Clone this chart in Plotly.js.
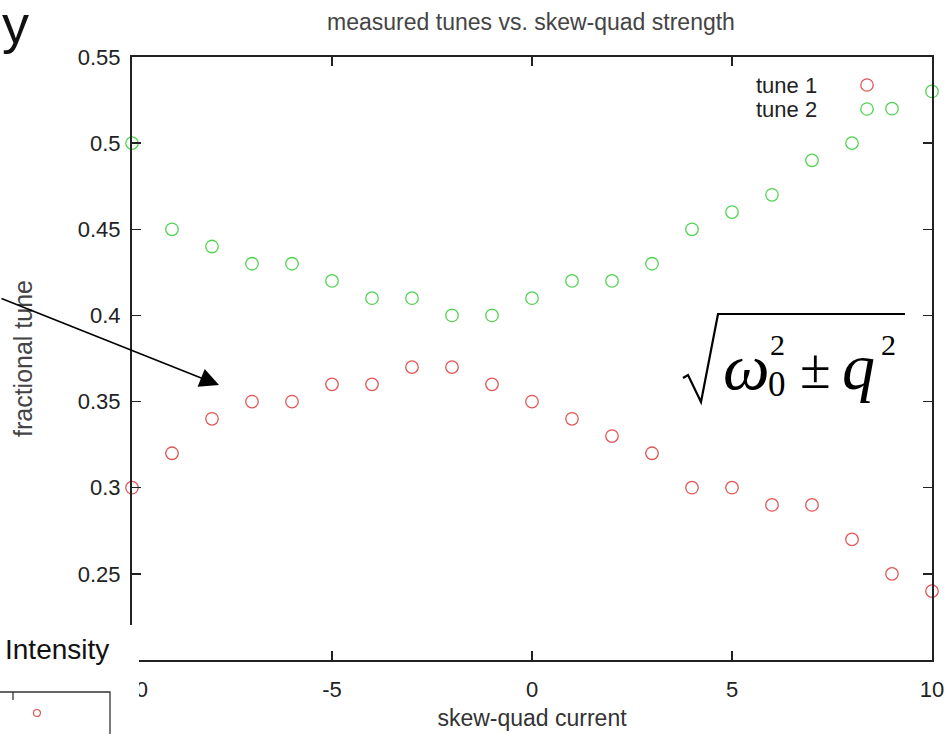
<!DOCTYPE html>
<html>
<head>
<meta charset="utf-8">
<script src="https://cdn.plot.ly/plotly-3.0.1.min.js"></script>
<style>html,body{margin:0;padding:0;background:#fff;}#chart{width:948px;height:734px;}</style>
</head>
<body>
<div id="chart"></div>
<script>
// ---- data ----
const current = [-10, -9, -8, -7, -6, -5, -4, -3, -2, -1, 0, 1, 2, 3, 4, 5, 6, 7, 8, 9, 10];
const tune1 = [0.30, 0.32, 0.34, 0.35, 0.35, 0.36, 0.36, 0.37, 0.37, 0.36, 0.35, 0.34, 0.33, 0.32, 0.30, 0.30, 0.29, 0.29, 0.27, 0.25, 0.24];
const tune2 = [0.50, 0.45, 0.44, 0.43, 0.43, 0.42, 0.41, 0.41, 0.40, 0.40, 0.41, 0.42, 0.42, 0.43, 0.45, 0.46, 0.47, 0.49, 0.50, 0.52, 0.53];
const seriesNames = ["tune 1", "tune 2"];
const xTicks = [-10, -5, 0, 5, 10];
const yTicks = [0.25, 0.3, 0.35, 0.4, 0.45, 0.5, 0.55];

// ---- layout helpers (pixel -> paper) ----
const W = 948, H = 734, L = 132, R = 16, T = 57, B = 74;
const PW = W - L - R, PH = H - T - B;
const px = x => (x - L) / PW;
const py = y => (H - B - y) / PH;

const red = '#e05656', green = '#52d452';
const sans = 'Liberation Sans, Arial, sans-serif';
const serif = 'Liberation Serif, Times New Roman, serif';

const traces = [
  {x: current, y: tune1, name: seriesNames[0], mode: 'markers', type: 'scatter', cliponaxis: false,
   marker: {symbol: 'circle-open', size: 12.5, color: red, line: {width: 1.3, color: red}}},
  {x: current, y: tune2, name: seriesNames[1], mode: 'markers', type: 'scatter', cliponaxis: false,
   marker: {symbol: 'circle-open', size: 12.5, color: green, line: {width: 1.3, color: green}}}
];

const ann = [];
// legend (gnuplot style: text left, sample right)
ann.push({xref: 'paper', yref: 'paper', x: px(819), y: py(85), xanchor: 'right', yanchor: 'middle', showarrow: false,
  text: seriesNames[0], font: {family: sans, size: 22, color: '#222'}});
ann.push({xref: 'paper', yref: 'paper', x: px(819), y: py(109), xanchor: 'right', yanchor: 'middle', showarrow: false,
  text: seriesNames[1], font: {family: sans, size: 22, color: '#222'}});
// slide overlay "y"
ann.push({xref: 'paper', yref: 'paper', x: px(0), y: py(24), xanchor: 'left', yanchor: 'middle', showarrow: false,
  text: 'y', font: {family: sans, size: 54, color: '#111'}});
// arrow
ann.push({xref: 'paper', yref: 'paper', x: px(219), y: py(385), ax: -219, ay: -87, showarrow: true,
  arrowhead: 2, arrowsize: 2.4, arrowwidth: 1.6, arrowcolor: '#000', text: ''});
// "Intensity"
ann.push({xref: 'paper', yref: 'paper', x: px(3), y: py(649), xanchor: 'left', yanchor: 'middle', showarrow: false,
  text: 'Intensity', font: {family: sans, size: 28, color: '#111'}});
// formula
const fcol = '#000';
ann.push({xref: 'paper', yref: 'paper', x: px(721), y: py(366), xanchor: 'left', yanchor: 'middle', showarrow: false,
  text: '<i>ω</i>', font: {family: serif, size: 66, color: fcol}});
ann.push({xref: 'paper', yref: 'paper', x: px(768), y: py(344), xanchor: 'left', yanchor: 'middle', showarrow: false,
  text: '2', font: {family: serif, size: 30, color: fcol}});
ann.push({xref: 'paper', yref: 'paper', x: px(766), y: py(384), xanchor: 'left', yanchor: 'middle', showarrow: false,
  text: '0', font: {family: serif, size: 35, color: fcol}});
ann.push({xref: 'paper', yref: 'paper', x: px(798), y: py(369), xanchor: 'left', yanchor: 'middle', showarrow: false,
  text: '±', font: {family: serif, size: 56, color: fcol}});
ann.push({xref: 'paper', yref: 'paper', x: px(840), y: py(366), xanchor: 'left', yanchor: 'middle', showarrow: false,
  text: '<i>q</i>', font: {family: serif, size: 66, color: fcol}});
ann.push({xref: 'paper', yref: 'paper', x: px(879), y: py(344), xanchor: 'left', yanchor: 'middle', showarrow: false,
  text: '2', font: {family: serif, size: 30, color: fcol}});

const shapes = [
  // legend samples
  {type: 'circle', xref: 'paper', yref: 'paper', layer: 'above', x0: px(860.8), x1: px(873.2), y0: py(78.8), y1: py(91.2), line: {color: red, width: 1.3}},
  {type: 'circle', xref: 'paper', yref: 'paper', layer: 'above', x0: px(860.8), x1: px(873.2), y0: py(102.8), y1: py(115.2), line: {color: green, width: 1.3}},
  // white overlay at bottom-left
  {type: 'rect', xref: 'paper', yref: 'paper', layer: 'above', x0: px(-2), x1: px(139), y0: py(625), y1: py(740), fillcolor: '#fff', line: {width: 0}},
  // small inset box
  {type: 'path', xref: 'paper', yref: 'paper', layer: 'above',
   path: `M ${px(-2)} ${py(692)} L ${px(110)} ${py(692)} L ${px(110)} ${py(740)}`, line: {color: '#333', width: 1.3}},
  {type: 'line', xref: 'paper', yref: 'paper', layer: 'above', x0: px(13), x1: px(13), y0: py(692), y1: py(700), line: {color: '#333', width: 1.3}},
  {type: 'circle', xref: 'paper', yref: 'paper', layer: 'above', x0: px(33.5), x1: px(40.5), y0: py(709.5), y1: py(716.5), line: {color: red, width: 1.2}},
  // radical sign and vinculum
  {type: 'path', xref: 'paper', yref: 'paper', layer: 'above',
   path: `M ${px(683)} ${py(378)} L ${px(688)} ${py(375)} L ${px(701)} ${py(402)} L ${px(718)} ${py(314)} L ${px(905)} ${py(314)}`,
   line: {color: fcol, width: 2.2}}
];

const layout = {
  width: W, height: H,
  margin: {l: L, r: R, t: T, b: B},
  paper_bgcolor: '#fff', plot_bgcolor: '#fff',
  showlegend: false,
  title: {text: 'measured tunes vs. skew-quad strength', x: 531 / W, xanchor: 'center', y: 1 - 22 / H, yanchor: 'middle', yref: 'container',
          font: {family: sans, size: 23, color: '#444'}},
  xaxis: {range: [-10, 10], tickvals: xTicks, ticktext: xTicks.map(String), showgrid: false, zeroline: false,
          showline: true, linecolor: '#222', linewidth: 2, mirror: 'ticks', ticks: 'inside', ticklen: 9, tickwidth: 1.5, tickcolor: '#222',
          tickfont: {family: sans, size: 22, color: '#222'}, ticklabelstandoff: 9,
          title: {text: 'skew-quad current', font: {family: sans, size: 23, color: '#333'}, standoff: 8}},
  yaxis: {range: [0.2, 0.55], tickvals: yTicks, ticktext: yTicks.map(v => String(v)), showgrid: false, zeroline: false,
          showline: true, linecolor: '#222', linewidth: 2, mirror: 'ticks', ticks: 'inside', ticklen: 9, tickwidth: 1.5, tickcolor: '#222',
          tickfont: {family: sans, size: 22, color: '#222'}, ticklabelstandoff: 5,
          title: {text: 'fractional tune', font: {family: sans, size: 25, color: '#444'}, standoff: 38}},
  annotations: ann,
  shapes: shapes
};

Plotly.newPlot('chart', traces, layout, {displayModeBar: false, staticPlot: true});
</script>
</body>
</html>
